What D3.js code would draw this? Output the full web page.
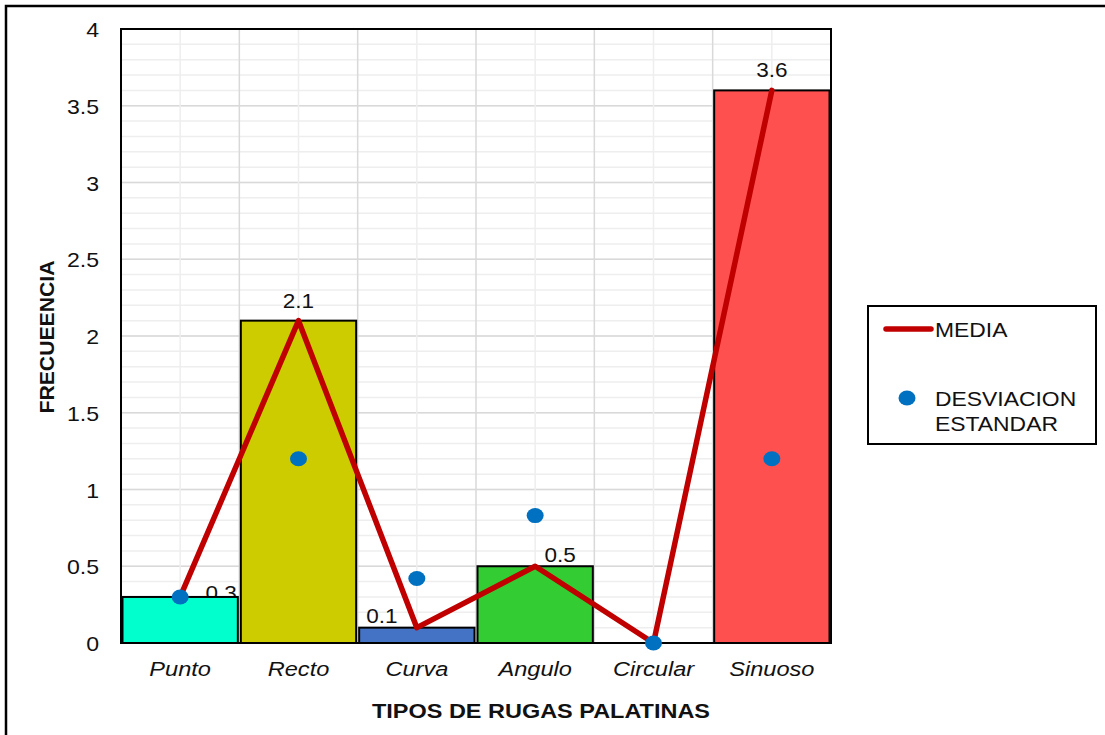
<!DOCTYPE html>
<html><head><meta charset="utf-8">
<script src="https://cdn.jsdelivr.net/npm/d3@7"></script>
<style>body{margin:0;background:#fff}svg{display:block;font-family:"Liberation Sans",Arial,sans-serif}</style>
</head><body>
<svg id="c" width="1105" height="735"></svg>
<script>
const categories = ["Punto","Recto","Curva","Angulo","Circular","Sinuoso"];
const media = [0.3, 2.1, 0.1, 0.5, 0, 3.6];
const desviacion = [0.3, 1.2, 0.42, 0.83, 0, 1.2];
const barColors = ["#00FFCC","#CCCC00","#4472C4","#33CC33","#FFFFFF","#FF5050"];
const yTicks = [0,0.5,1,1.5,2,2.5,3,3.5,4];
const labelShown = [true,true,true,true,false,true];

const svg = d3.select("#c");
const L=121, R=831, T=29, B=643;
const FF = "Liberation Sans, Arial, sans-serif";
function stretch(sel, f){
  sel.each(function(){
    const w = this.getComputedTextLength();
    d3.select(this).attr("textLength", w*f).attr("lengthAdjust","spacingAndGlyphs");
  });
}
svg.append("rect").attr("x",6).attr("y",6).attr("width",1120).attr("height",760)
  .attr("fill","none").attr("stroke","#000").attr("stroke-width",2.5);

const x = d3.scaleBand().domain(categories).range([L,R]).padding(0);
const y = d3.scaleLinear().domain([0,4]).range([B,T]);
const g = svg.append("g");

// minor horizontal grid
d3.range(0,4.0001,0.1).forEach(v=>{
  g.append("line").attr("x1",L).attr("x2",R).attr("y1",y(v)).attr("y2",y(v))
   .attr("stroke","#eeeeee").attr("stroke-width",1.5);
});
yTicks.forEach(v=>{
  g.append("line").attr("x1",L).attr("x2",R).attr("y1",y(v)).attr("y2",y(v))
   .attr("stroke","#d9d9d9").attr("stroke-width",1.5);
});
categories.forEach(c=>{
  const cx = x(c)+x.bandwidth()/2;
  g.append("line").attr("x1",cx).attr("x2",cx).attr("y1",T).attr("y2",B).attr("stroke","#eeeeee").attr("stroke-width",1.5);
  g.append("line").attr("x1",x(c)).attr("x2",x(c)).attr("y1",T).attr("y2",B).attr("stroke","#d9d9d9").attr("stroke-width",1.5);
});

// data labels (drawn under bars, as in the reference the 0.3 label is partly covered)
const offs = [[41,3],[0,-13],[-35,-5],[25,-4],[0,0],[0,-13]];
const dl = g.append("g");
media.forEach((v,i)=>{
  if(!labelShown[i]) return;
  dl.append("text").attr("x",x(categories[i])+x.bandwidth()/2+offs[i][0]).attr("y",y(v)+offs[i][1])
   .attr("text-anchor","middle").attr("font-size",20.5).attr("fill","#111").text(v);
});

// bars
g.selectAll(".bar").data(categories).enter().append("rect")
  .attr("x",(d)=>x(d)+1.5).attr("width",x.bandwidth()-3)
  .attr("y",(d,i)=>y(media[i])).attr("height",(d,i)=>B-y(media[i]))
  .attr("fill",(d,i)=>barColors[i]).attr("stroke","#000").attr("stroke-width",(d,i)=>media[i]>0?2:0);

// plot border
g.append("rect").attr("x",L).attr("y",T).attr("width",R-L).attr("height",B-T)
  .attr("fill","none").attr("stroke","#000").attr("stroke-width",2);

// line
const line = d3.line().x((d,i)=>x(categories[i])+x.bandwidth()/2).y(d=>y(d));
g.append("path").datum(media).attr("d",line).attr("fill","none")
  .attr("stroke","#C00000").attr("stroke-width",5.5).attr("stroke-linejoin","round").attr("stroke-linecap","round");

// dots
g.selectAll(".dot").data(desviacion).enter().append("ellipse")
  .attr("cx",(d,i)=>x(categories[i])+x.bandwidth()/2).attr("cy",d=>y(d))
  .attr("rx",8.5).attr("ry",7.5).attr("fill","#0070C0");

stretch(dl.selectAll("text"),1.1);

// y axis labels
const ya = d3.axisLeft(y).tickValues(yTicks).tickSize(0).tickPadding(22).tickFormat(d3.format("~g"));
const yg = svg.append("g").attr("transform",`translate(${L},0)`).call(ya);
yg.select(".domain").remove();
yg.selectAll("text").attr("font-size",21).attr("fill","#111").attr("font-family",FF).attr("dy","0.36em");
stretch(yg.selectAll("text"),1.1);

// x axis labels
const xa = d3.axisBottom(x).tickSize(0).tickPadding(18);
const xg = svg.append("g").attr("transform",`translate(0,${B})`).call(xa);
xg.select(".domain").remove();
xg.selectAll("text").attr("font-size",20.5).attr("font-style","italic").attr("fill","#111").attr("font-family",FF).attr("dy","0.71em");
stretch(xg.selectAll("text"),1.15);

// axis titles
const xt = svg.append("text").attr("x",541).attr("y",718).attr("text-anchor","middle")
  .attr("font-size",21).attr("font-weight","bold").attr("fill","#111").text("TIPOS DE RUGAS PALATINAS");
xt.attr("textLength",338).attr("lengthAdjust","spacingAndGlyphs");
const yt = svg.append("text").attr("transform","translate(54,337) rotate(-90)").attr("text-anchor","middle")
  .attr("font-size",20).attr("font-weight","bold").attr("fill","#111").text("FRECUEENCIA");
yt.attr("textLength",153).attr("lengthAdjust","spacingAndGlyphs");

// legend
const lg = svg.append("g");
lg.append("rect").attr("x",868).attr("y",306).attr("width",228).attr("height",138)
  .attr("fill","#fff").attr("stroke","#000").attr("stroke-width",2);
lg.append("line").attr("x1",886).attr("x2",931).attr("y1",329).attr("y2",329)
  .attr("stroke","#C00000").attr("stroke-width",5.5).attr("stroke-linecap","round");
lg.append("text").attr("x",935).attr("y",337).attr("font-size",21).attr("fill","#111").text("MEDIA");
lg.append("ellipse").attr("cx",907).attr("cy",398).attr("rx",8.5).attr("ry",7.5).attr("fill","#0070C0");
lg.append("text").attr("x",935).attr("y",406).attr("font-size",21).attr("fill","#111").text("DESVIACION");
lg.append("text").attr("x",935).attr("y",431).attr("font-size",21).attr("fill","#111").text("ESTANDAR");
stretch(lg.selectAll("text"),1.09);
</script>
</body></html>
